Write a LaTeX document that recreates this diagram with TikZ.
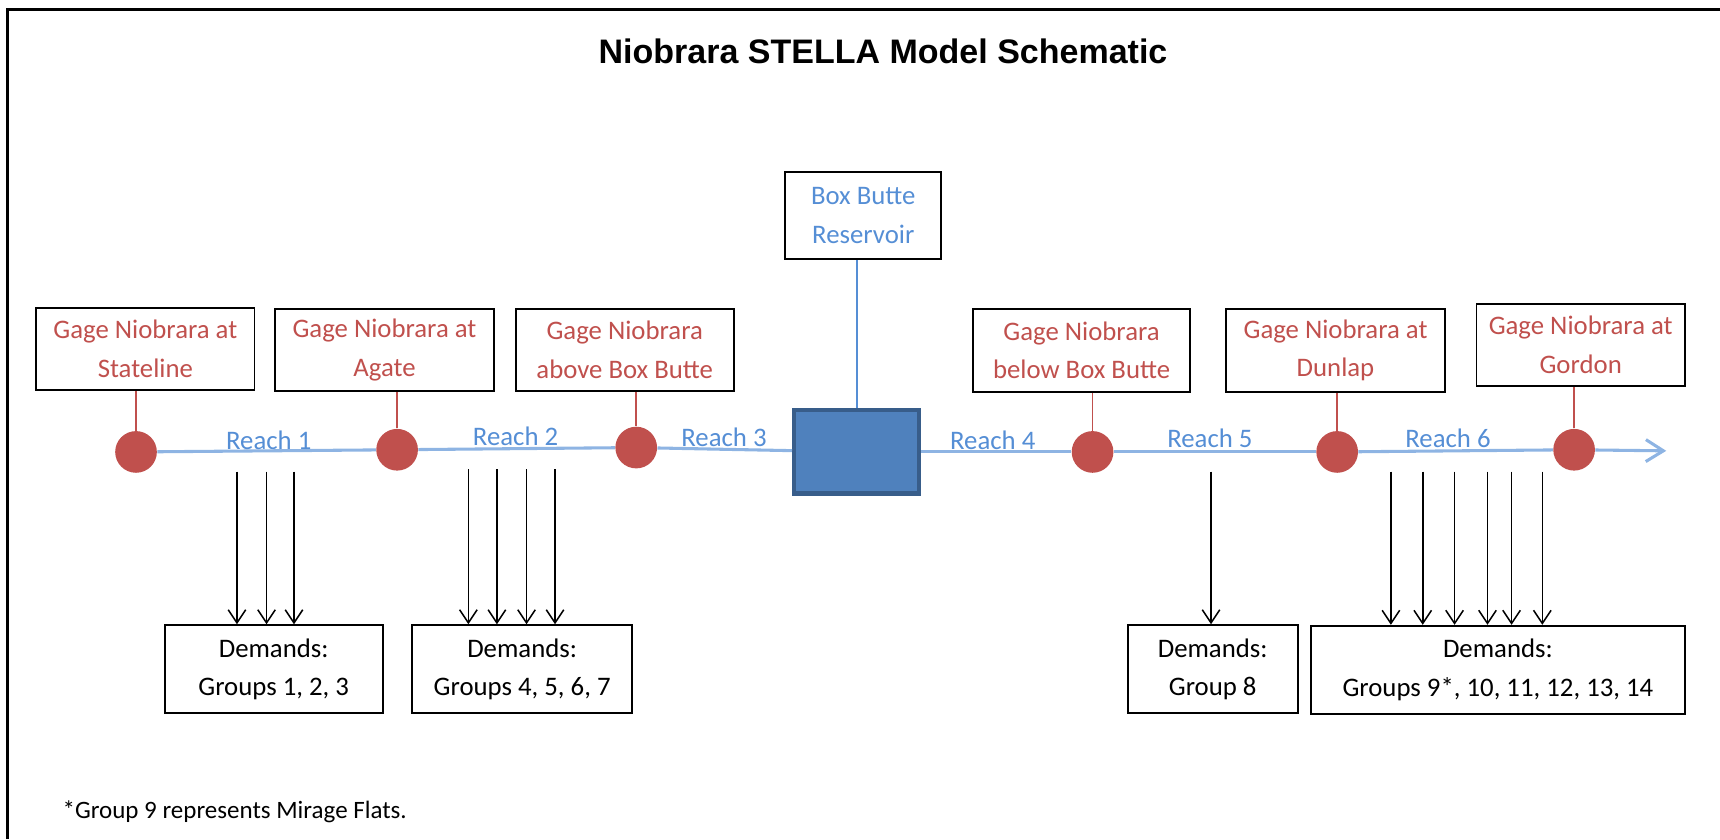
\documentclass[tikz,border=0pt]{standalone}
\usepackage{fontspec}
\setmainfont{Carlito}
\newfontfamily\titlefont{Liberation Sans}
\usepackage{tikz}
\usetikzlibrary{arrows.meta, calc}
\definecolor{gagered}{HTML}{C0504D}
\definecolor{reachblue}{HTML}{558ED5}
\definecolor{riverblue}{HTML}{8EB4E3}
\definecolor{tankfill}{HTML}{4F81BD}
\definecolor{tankedge}{HTML}{385D8A}
\tikzset{
    txt/.style = {font = \fontsize{12.2}{17.5}\selectfont, align = center},
    gagebox/.style = {txt, draw, line width = 0.9pt, text = gagered, minimum height = 37.5pt, inner sep = 0pt},
    demandbox/.style = {txt, draw, line width = 0.9pt, text = black, minimum height = 40pt, inner sep = 0pt},
    gage/.style = {circle, fill = gagered, minimum size = 19pt, inner sep = 0pt},
    river/.style = {riverblue, line width = 1.4pt},
    gagelink/.style = {gagered, line width = 0.7pt},
    demand/.style = {line width = 0.7pt, -{Straight Barb[length = 6pt, width = 8pt]}},
    reach/.style = {txt, text = reachblue}
}
\begin{document}
\begin{tikzpicture}[x = 0.5pt, y = -0.5pt]
    \useasboundingbox (0,0) rectangle (1568,765);
    \draw[line width = 1.4pt] (7,765) -- (7,9) -- (1568,9);
    \node[font = \titlefont\bfseries\fontsize{15.5}{18}\selectfont] (title) at (805,47){Niobrara STELLA Model Schematic};
    % gages
    \node[gagebox, minimum width = 99.5pt] (g1) at (132.5,318){Gage Niobrara at\\Stateline};
    \node[gagebox, minimum width = 99.5pt] (g2) at (350.5,319){Gage Niobrara at\\Agate};
    \node[gagebox, minimum width = 99.5pt] (g3) at (569.5,319){Gage Niobrara\\above Box Butte};
    \node[gagebox, minimum width = 99pt] (g4) at (986,319.5){Gage Niobrara\\below Box Butte};
    \node[gagebox, minimum width = 99.5pt] (g5) at (1217.5,319.5){Gage Niobrara at\\Dunlap};
    \node[gagebox, minimum width = 95pt] (g6) at (1441,314.5){Gage Niobrara at\\Gordon};
    \node[gage] (c1) at (124,412){};
    \node[gage] (c2) at (362,410){};
    \node[gage] (c3) at (580,408){};
    \node[gage] (c4) at (996,412){};
    \node[gage] (c5) at (1219,412){};
    \node[gage] (c6) at (1435,410){};
    \foreach \i in {1,...,6}
        \draw[gagelink] (c\i.north) -- (c\i.north |- g\i.south);
    % reservoir
    \node[gagebox, text = reachblue, minimum width = 71pt, minimum height = 39.5pt] (res) at (787,196.5){Box Butte\\Reservoir};
    \node[draw = tankedge, fill = tankfill, line width = 2pt, minimum width = 57pt, minimum height = 38pt, inner sep = 0pt] (tank) at (781,412){};
    \draw[river, line width = 0.8pt, reachblue] (tank.north) -- (tank.north |- res.south);
    % river
    \coordinate (mouth) at (1519,411);
    \foreach \a/\b in {c1/c2, c2/c3, c3/tank, tank/c4, c4/c5, c5/c6}
        \draw[river] (\a) -- (\b);
    \draw[river, -{Straight Barb[length = 8pt, width = 10pt]}] (c6) -- (mouth);
    \node[reach] (r1) at (245,401){Reach 1};
    \node[reach] (r2) at (470,398){Reach 2};
    \node[reach] (r3) at (660,399){Reach 3};
    \node[reach] (r4) at (905,401){Reach 4};
    \node[reach] (r5) at (1103,400){Reach 5};
    \node[reach] (r6) at (1320,400){Reach 6};
    % demands
    \node[demandbox, minimum width = 99.5pt] (d1) at (249.5,610){Demands:\\Groups 1, 2, 3};
    \node[demandbox, minimum width = 100pt] (d2) at (476,610){Demands:\\Groups 4, 5, 6, 7};
    \node[demandbox, minimum width = 77.5pt] (d3) at (1105.5,610){Demands:\\Group 8};
    \node[demandbox, minimum width = 170.5pt] (d4) at (1365.5,610.5){Demands:\\Groups 9*, 10, 11, 12, 13, 14};
    \foreach \x in {216,243,268}{
        \coordinate (top) at (\x,430);
        \draw[demand] (top) -- (top |- d1.north);
    }
    \foreach \x in {427,453,480,506}{
        \coordinate (top) at (\x,428);
        \draw[demand] (top) -- (top |- d2.north);
    }
    \coordinate (top) at (1104,430);
    \draw[demand] (top) -- (top |- d3.north);
    \foreach \x in {1268,1297,1326,1356,1378,1406}{
        \coordinate (top) at (\x,430);
        \draw[demand] (top) -- (top |- d4.north);
    }
    \node[txt, right, font = \fontsize{11.4}{14}\selectfont] (note) at (50,740){*Group 9 represents Mirage Flats.};
\end{tikzpicture}
\end{document}
